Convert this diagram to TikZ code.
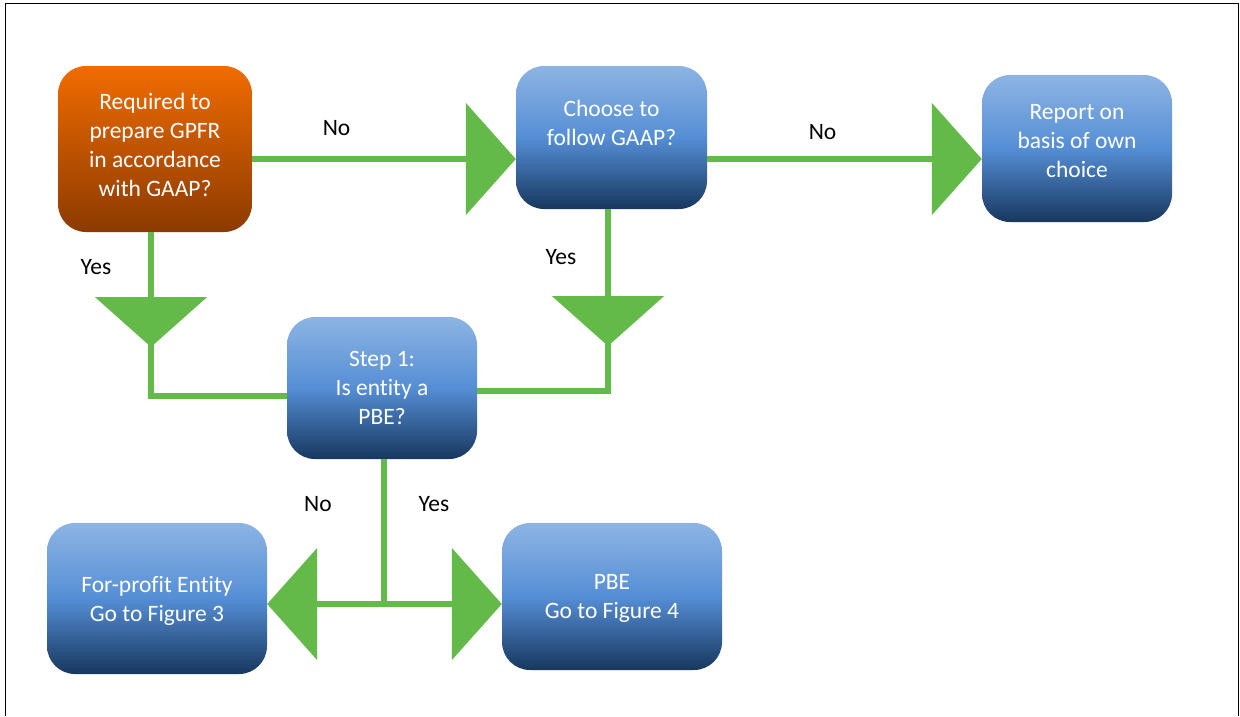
\documentclass[tikz,border=0pt]{standalone}
\usepackage{fontspec}
\setmainfont{Carlito}[Ligatures=NoCommon]
\usetikzlibrary{arrows.meta}

\definecolor{blueTop}{RGB}{141,180,227}
\definecolor{blueMid}{RGB}{85,142,213}
\definecolor{blueBot}{RGB}{23,55,94}
\definecolor{orTop}{RGB}{240,108,0}
\definecolor{orBot}{RGB}{140,58,0}
\definecolor{flowgreen}{RGB}{99,186,72}

\begin{document}
\begin{tikzpicture}[x=1pt,y=-1pt,
box/.style = {rounded corners=28pt, text=white, align=center, inner sep=0pt,
  font=\fontsize{23.5}{29}\selectfont},
bluebox/.style = {box, top color=blueTop, bottom color=blueBot, middle color=blueMid},
orangebox/.style = {box, top color=orTop, bottom color=orBot},
flow/.style = {line width=6.5pt, flowgreen},
bigtip/.style = {-{Triangle[length=50pt,width=111pt]}},
lbl/.style = {font=\fontsize{23.5}{29}\selectfont, text=black}
]
  \useasboundingbox (0,0) rectangle (1240,716);
  \draw[line width=1.6pt] (5.5,716) -- (5.5,3.5) -- (1238.5,3.5) -- (1238.5,716);

  \node[orangebox, minimum width=194pt, minimum height=166pt, text depth=8pt] (req) at (155,149)
    {Required to\\prepare GPFR\\in accordance\\with GAAP?};
  \node[bluebox, minimum width=191pt, minimum height=143pt, text depth=29pt] (choose) at (611.5,137.5)
    {Choose to\\follow GAAP?};
  \node[bluebox, minimum width=190pt, minimum height=147pt, text depth=16pt] (report) at (1077,148.5)
    {Report on\\basis of own\\choice};
  \node[bluebox, minimum width=190pt, minimum height=142pt] (step) at (382,388)
    {Step 1:\\Is entity a\\PBE?};
  \node[bluebox, minimum width=220pt, minimum height=151pt, text depth=0pt] (fp) at (157,598.5)
    {For-profit Entity\\Go to Figure 3};
  \node[bluebox, minimum width=220pt, minimum height=147pt, text depth=0pt] (pbe) at (612,596.5)
    {PBE\\Go to Figure 4};

  \path ([yshift=-10pt]req.east) coordinate (noA);
  \path ([yshift=-21.5pt]choose.east) coordinate (noB);
  \path ([xshift=-4pt]req.south) coordinate (yesA);
  \path ([xshift=-3.5pt]choose.south) coordinate (yesB);
  \coordinate (tipA) at (151,347);
  \coordinate (tipB) at (608,346);
  \coordinate (split) at (384,604);

  \draw[flow,bigtip] (noA) -- (noA -| choose.west) node[lbl, pos=0.32, yshift=31pt] {No};
  \draw[flow,bigtip] (noB) -- (noB -| report.west) node[lbl, pos=0.42, yshift=27pt] {No};

  \draw[flow,bigtip] (yesA) -- (tipA) node[lbl, pos=0.3, xshift=-55pt] {Yes};
  \draw[flow] ([yshift=3pt]tipA) |- (step.west |- 0,396);
  \draw[flow,bigtip] (yesB) -- (tipB) node[lbl, pos=0.35, xshift=-47pt] {Yes};
  \draw[flow] ([yshift=3pt]tipB) |- (step.east |- 0,391);

  \draw[flow] ([xshift=2pt]step.south) -- (split)
    node[lbl, pos=0.31, xshift=-66pt] {No}
    node[lbl, pos=0.31, xshift=50pt] {Yes};
  \draw[flow,bigtip] (split) -- (split -| fp.east);
  \draw[flow,bigtip] (split) -- (split -| pbe.west);
\end{tikzpicture}
\end{document}
